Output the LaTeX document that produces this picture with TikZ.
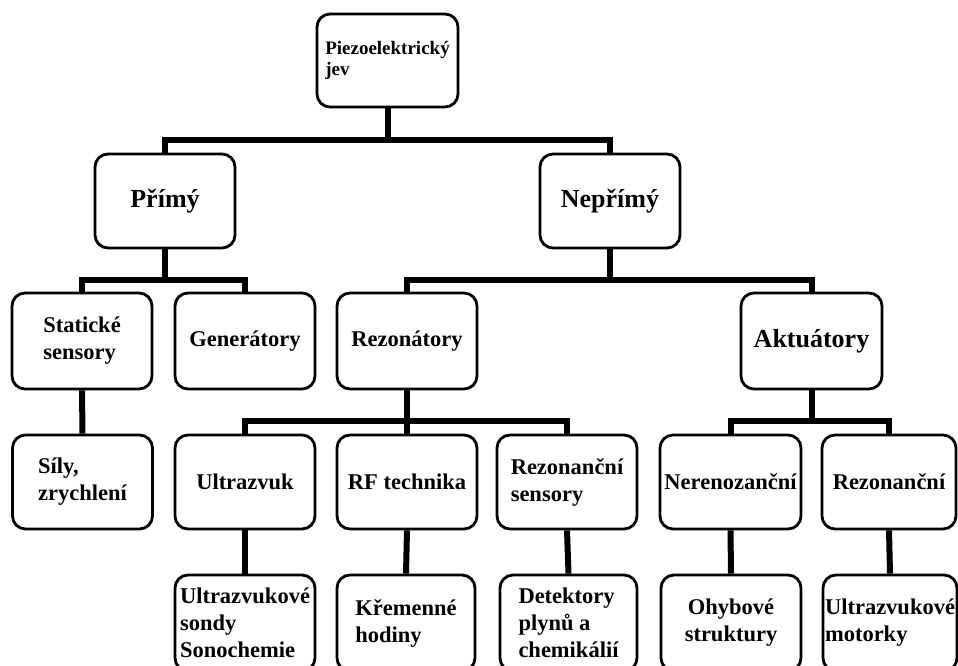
\documentclass[tikz,border=0pt]{standalone}
\usepackage{fontspec}
\setmainfont{Liberation Serif}
\begin{document}
\begin{tikzpicture}[x=1pt,y=-1pt,
  box/.style={draw=black, line width=2.8pt, rounded corners=13pt, fill=white,
    inner sep=1pt, align=left, minimum width=140pt, minimum height=94pt,
    font=\bfseries\fontsize{22.5}{27}\selectfont},
  head/.style={font=\bfseries\fontsize{26}{30}\selectfont},
  rootf/.style={font=\bfseries\fontsize{19}{21}\selectfont},
  conn/.style={line width=6pt, draw=black}]
\useasboundingbox (0,0) rectangle (958,666);
\clip (0,0) rectangle (958,666);
% level 0
\node[box, rootf, minimum width=141pt, minimum height=93pt] (root) at (387.5,60.5) {Piezoelektrický\\jev};
% level 1
\node[box, head] (primy) at (165,201) {Přímý};
\node[box, head] (neprimy) at (610,201) {Nepřímý};
% level 2
\node[box, minimum height=96pt] (stat) at (82,341) {Statické\\sensory};
\node[box, minimum height=96pt] (gen) at (245,341) {Generátory};
\node[box, minimum height=96pt] (rezt) at (407,341) {Rezonátory};
\node[box, head, minimum width=141pt, minimum height=96pt] (akt) at (811.5,341) {Aktuátory};
% level 3
\node[box] (sily) at (82.5,482) {Síly,\\zrychlení};
\node[box] (ultra) at (245,482) {Ultrazvuk};
\node[box] (rf) at (407,482) {RF technika};
\node[box] (rezs) at (567,482) {Rezonanční\\sensory};
\node[box, minimum width=141pt] (neren) at (730.5,482) {Nerenozanční};
\node[box, minimum width=134pt] (rezon) at (889,482) {Rezonanční};
% level 4
\node[box, minimum height=96pt] (ultrab) at (245,623) {Ultrazvukové\\sondy\\Sonochemie};
\node[box, minimum width=138pt, minimum height=96pt] (krem) at (406,623) {Křemenné\\hodiny};
\node[box, minimum width=137pt, minimum height=96pt] (det) at (568.5,623) {Detektory\\plynů a\\chemikálií};
\node[box, align=center, minimum height=96pt] (ohyb) at (731,623) {Ohybové\\struktury};
\node[box, minimum width=134pt, minimum height=96pt] (motor) at (890,623) {Ultrazvukové\\motorky};
% bar coordinates
\coordinate (b1) at (387.5,140);
\coordinate (b2) at (165,280);
\coordinate (b3) at (610,280);
\coordinate (b4) at (407,421);
\coordinate (b5) at (811.5,421);
% connectors
\draw[conn] (root.south) -- (b1);
\draw[conn] (primy.north) |- (b1);
\draw[conn] (neprimy.north) |- (b1);
\draw[conn] (primy.south) -- (b2);
\draw[conn] (stat.north) |- (b2);
\draw[conn] (gen.north) |- (b2);
\draw[conn] (neprimy.south) -- (b3);
\draw[conn] (rezt.north) |- (b3);
\draw[conn] (akt.north) |- (b3);
\draw[conn] (rezt.south) -- (b4);
\draw[conn] (ultra.north) |- (b4);
\draw[conn] (rf.north) |- (b4);
\draw[conn] (rezs.north) |- (b4);
\draw[conn] (akt.south) -- (b5);
\draw[conn] (neren.north) |- (b5);
\draw[conn] (rezon.north) |- (b5);
\draw[conn] (stat.south) -- (sily.north);
\draw[conn] (ultra.south) -- (ultrab.north);
\draw[conn] (rf.south) -- (krem.north);
\draw[conn] (rezs.south) -- (det.north);
\draw[conn] (neren.south) -- (ohyb.north);
\draw[conn] (rezon.south) -- (motor.north);
\end{tikzpicture}
\end{document}
